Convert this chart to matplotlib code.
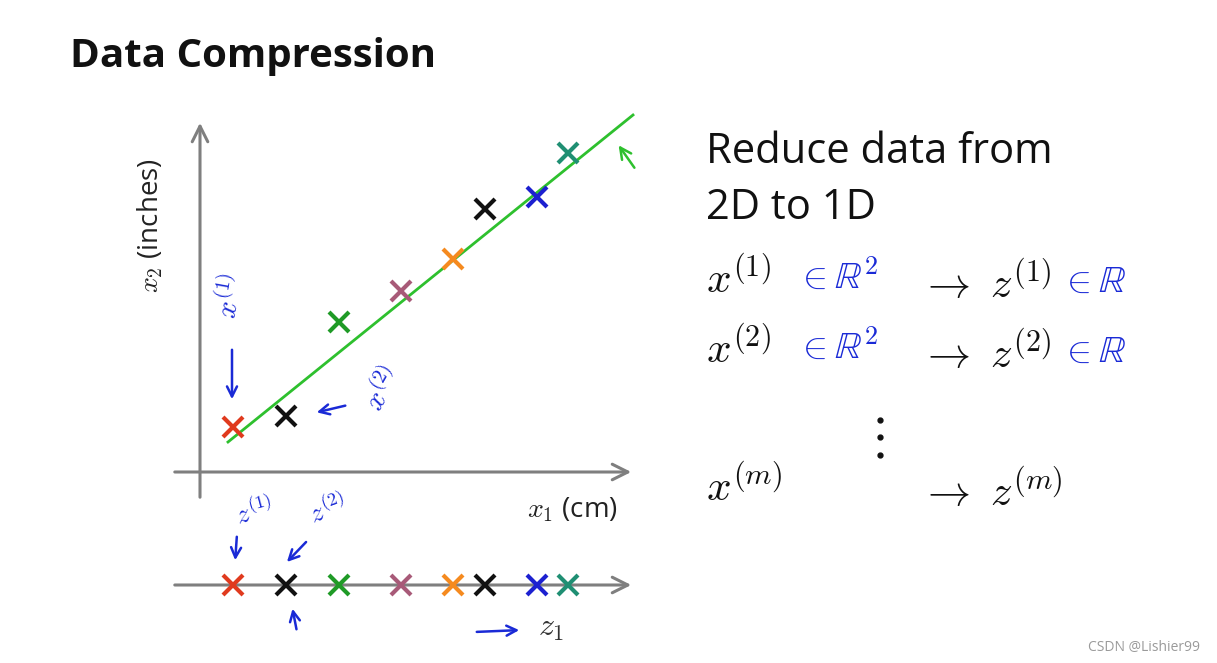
import matplotlib
matplotlib.use("Agg")
import matplotlib.pyplot as plt
import numpy as np

plt.rcParams['mathtext.fontset'] = 'cm'
plt.rcParams['font.family'] = ['Open Sans', 'DejaVu Sans']

# data points (x1 in cm, x2 in inches, arbitrary units)
x1 = [0.66, 1.72, 2.78, 4.02, 5.06, 5.70, 6.74, 7.36]
x2 = [0.90, 1.12, 3.00, 3.62, 4.26, 5.26, 5.50, 6.38]
z1 = [0.66, 1.72, 2.78, 4.02, 5.06, 5.70, 6.74, 7.36]
point_colors = ['#e03a1e', '#111111', '#1f9a26', '#a85a78', '#f58a1f',
                '#111111', '#1c20d0', '#1f8f73']
line_x = [0.56, 8.66]
line_y = [0.60, 7.14]

rows_left = [r'$x^{(1)}$', r'$x^{(2)}$', r'$x^{(m)}$']
rows_right = [r'$\rightarrow\,\, z^{(1)}$', r'$\rightarrow\,\, z^{(2)}$', r'$\rightarrow\,\, z^{(m)}$']
rows_hand = [r'$\in\mathbb{R}^2$', r'$\in\mathbb{R}^2$', '']
rows_hand_r = [r'$\in\mathbb{R}$', r'$\in\mathbb{R}$', '']


def px(x):
    return (x - 200) / 50.0


def py(y):
    return (472 - y) / 50.0


fig = plt.figure(figsize=(12.17, 6.63), dpi=100)
ax = fig.add_axes([0, 0, 1, 1])
ax.set_xlim(px(0), px(1217))
ax.set_ylim(py(663), py(0))
ax.axis('off')

gray = '#7f7f7f'
blue = '#1a2ad6'
arrow = dict(arrowstyle='->', color=gray, lw=2.2, mutation_scale=28)

# axes of the 2D plot
ax.annotate('', xy=(0, py(120)), xytext=(0, py(500)), arrowprops=arrow)
ax.annotate('', xy=(px(634), 0), xytext=(px(172), 0), arrowprops=arrow)
# z1 axis
z_level = py(585)
ax.annotate('', xy=(px(634), z_level), xytext=(px(172), z_level), arrowprops=arrow)

# projection line
ax.plot(line_x, line_y, color='#2ec02e', lw=2.0, zorder=2)

for xa, ya, za, c in zip(x1, x2, z1, point_colors):
    ax.plot(xa, ya, marker='x', color=c, ms=15, mew=3, zorder=3)
    ax.plot(za, z_level, marker='x', color=c, ms=15, mew=3, zorder=3)

# title and labels
ax.text(px(70), py(57), 'Data Compression', fontsize=29, fontweight='bold',
        ha='left', va='center', color='#111111')
ax.text(px(150), py(226), r'$x_2$ (inches)', fontsize=20, rotation=90,
        ha='center', va='center', color='#222222')
ax.text(px(618), py(510), r'$x_1$ (cm)', fontsize=20, ha='right',
        va='center', color='#222222')
ax.text(px(538), py(627), r'$z_1$', fontsize=23, ha='left', va='center',
        color='#333333')

ax.text(px(706), py(152), 'Reduce data from', fontsize=30, ha='left',
        va='center', color='#111111')
ax.text(px(706), py(208), '2D to 1D', fontsize=30, ha='left',
        va='center', color='#111111')

row_y = [282, 352, 490]
for yy, l, r, h, hr in zip(row_y, rows_left, rows_right, rows_hand, rows_hand_r):
    ax.text(px(706), py(yy), l, fontsize=31, ha='left', va='center', color='#111111')
    ax.text(px(920), py(yy + 4), r, fontsize=31, ha='left', va='center', color='#111111')
    if h:
        ax.text(px(796), py(yy - 4), h, fontsize=27, ha='left', va='center', color=blue)
        ax.text(px(1060), py(yy), hr, fontsize=27, ha='left', va='center', color=blue)
ax.plot([px(880)] * 3, [py(420), py(437), py(455)], 'o', color='#111111', ms=3.5)

# handwritten annotations
barrow = dict(arrowstyle='->', color=blue, lw=1.8, mutation_scale=18)
ax.text(px(232), py(296), r'$x^{(1)}$', fontsize=21, rotation=80, color=blue,
        ha='center', va='center')
ax.annotate('', xy=(px(232), py(402)), xytext=(px(232), py(347)), arrowprops=barrow)
ax.annotate('', xy=(px(314), py(413)), xytext=(px(348), py(405)), arrowprops=barrow)
ax.text(px(384), py(390), r'$x^{(2)}$', fontsize=21, rotation=60, color=blue,
        ha='center', va='center')
ax.text(px(255), py(512), r'$z^{(1)}$', fontsize=19, rotation=15, color=blue,
        ha='center', va='center')
ax.annotate('', xy=(px(235), py(563)), xytext=(px(237), py(534)), arrowprops=barrow)
ax.text(px(328), py(510), r'$z^{(2)}$', fontsize=19, rotation=20, color=blue,
        ha='center', va='center')
ax.annotate('', xy=(px(285), py(564)), xytext=(px(308), py(540)), arrowprops=barrow)
ax.annotate('', xy=(px(292), py(606)), xytext=(px(297), py(632)), arrowprops=barrow)
ax.annotate('', xy=(px(522), py(630)), xytext=(px(474), py(632)), arrowprops=barrow)
ax.annotate('', xy=(px(617), py(143)), xytext=(px(636), py(170)),
            arrowprops=dict(arrowstyle='->', color='#2ec02e', lw=1.8, mutation_scale=20))

ax.text(px(1200), py(648), 'CSDN @Lishier99', fontsize=10, ha='right',
        va='center', color='#9a9a9a')

fig.savefig('out.png', dpi=100)
